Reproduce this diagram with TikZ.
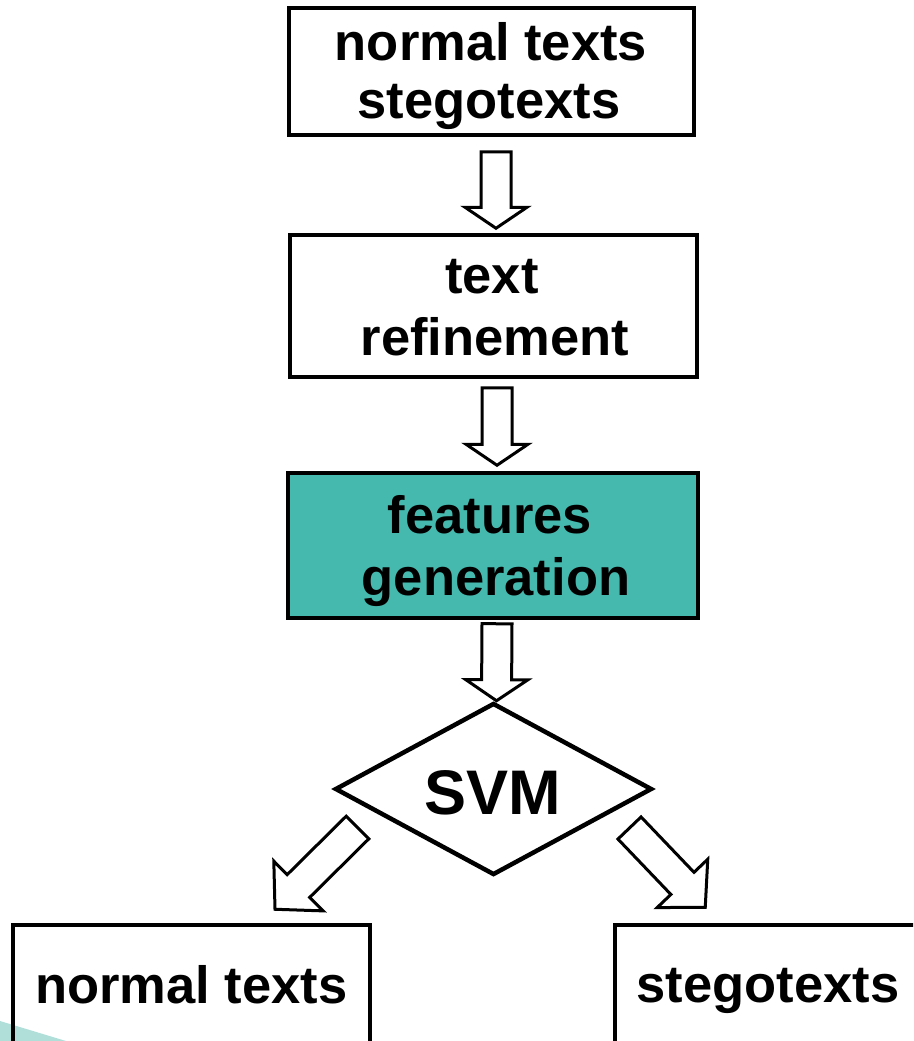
\documentclass[tikz,border=0pt]{standalone}
\usepackage{fontspec}
\setmainfont{Liberation Sans}
\usetikzlibrary{shapes.geometric,calc}
\definecolor{featfill}{HTML}{45B9AE}
\definecolor{tealpale}{HTML}{B0DFDA}
\newcommand\blockarrow[5]{%
  \coordinate (ba-c) at ($(#2)!#5!(#1)$);
  \draw[barrow] ($(#1)!#3!90:(#2)$) -- ($(ba-c)!#3!90:(#2)$) -- ($(ba-c)!#4!90:(#2)$) -- (#2)
    -- ($(ba-c)!#4!-90:(#2)$) -- ($(ba-c)!#3!-90:(#2)$) -- ($(#1)!#3!-90:(#2)$) -- cycle;
}
\begin{document}
\begin{tikzpicture}[x=1pt,y=-1pt,
  box/.style={draw=black, line width=3.5pt, rectangle, inner sep=0pt},
  txt/.style={inner sep=0pt, anchor=base, font=\fontsize{52.5}{60}\selectfont\bfseries},
  barrow/.style={draw=black, line width=3pt, fill=white, line join=miter}]
\clip (0,0) rectangle (913,1041);
\fill[tealpale] (0,1021) -- (66,1041) -- (0,1041) -- cycle;
% boxes
\node[box, minimum width=405, minimum height=127] (in) at (491.5,71.5) {};
\node[box, minimum width=407, minimum height=142] (ref) at (493.5,306) {};
\node[box, fill=featfill, minimum width=410, minimum height=145] (feat) at (493,545.5) {};
\node[draw=black, line width=4.5pt, diamond, inner sep=0pt, minimum width=317, minimum height=172] (svm) at (493.5,789) {};
\node[box, minimum width=357, minimum height=124] (nt) at (191.5,987) {};
\node[box, minimum width=306, minimum height=124] (st) at (768,987) {};
% texts
\node[txt] (in1) at (491,60) {normal texts};
\node[txt] (in2) at (489,118) {stegotexts};
\node[txt] (ref1) at (492,293) {text};
\node[txt] (ref2) at (495,355) {refinement};
\node[txt] (feat1) at (490,533) {features};
\node[txt] (feat2) at (496,595) {generation};
\node[txt, font=\fontsize{63}{70}\selectfont\bfseries] (svm1) at (493,814) {SVM};
\node[txt] (nt1) at (191.5,1003) {normal texts};
\node[txt] (st1) at (768,1002) {stegotexts};
% vertical block arrows
\coordinate (a1s) at ([xshift=4.5pt,yshift=-15pt]in.south);
\coordinate (a1e) at ([xshift=2.5pt,yshift=5pt]ref.north);
\blockarrow{a1s}{a1e}{15pt}{31pt}{21pt}
\coordinate (a2s) at ([xshift=3.5pt,yshift=-9pt]ref.south);
\coordinate (a2e) at ([xshift=4pt,yshift=6pt]feat.north);
\blockarrow{a2s}{a2e}{15pt}{31pt}{21pt}
\coordinate (a3s) at ([xshift=4pt,yshift=-4pt]feat.south);
\coordinate (a3e) at ([xshift=3pt]svm.north);
\blockarrow{a3s}{a3e}{15pt}{31pt}{21pt}
% diagonal block arrows
\coordinate (a4s) at (357.5,827.5);
\coordinate (a4e) at ([xshift=263.75pt,yshift=14pt]nt.north west);
\blockarrow{a4s}{a4e}{16pt}{35pt}{33pt}
\coordinate (a5s) at (629.5,828);
\coordinate (a5e) at ([xshift=92pt,yshift=16pt]st.north west);
\blockarrow{a5s}{a5e}{16pt}{35pt}{33pt}
\end{tikzpicture}
\end{document}
